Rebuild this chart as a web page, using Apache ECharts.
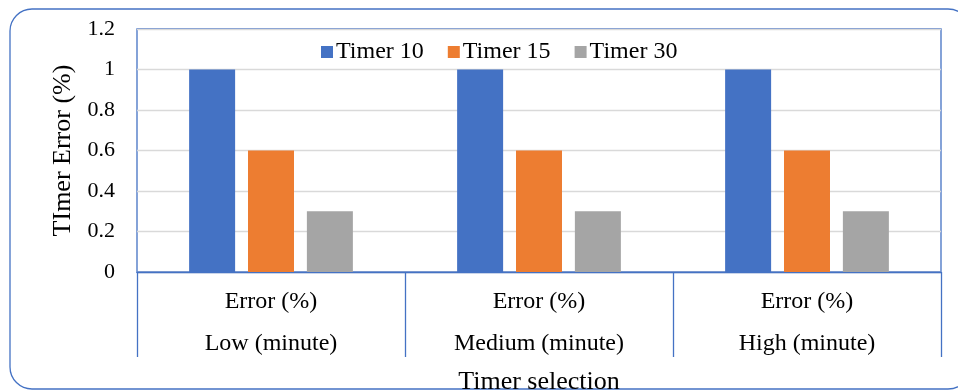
<!DOCTYPE html>
<html>
<head>
<meta charset="utf-8">
<script src="https://cdn.jsdelivr.net/npm/echarts@6/dist/echarts.min.js"></script>
<style>
  html, body { margin: 0; padding: 0; background: #ffffff; }
  #chart { width: 958px; height: 390px; }
</style>
</head>
<body>
<div id="chart"></div>
<script>
// Timer selection levels and the per-timer error values
const groups = ['Low (minute)', 'Medium (minute)', 'High (minute)'];
const subLabel = 'Error (%)';
const seriesNames = ['Timer 10', 'Timer 15', 'Timer 30'];
const timer10 = [1, 1, 1];
const timer15 = [0.6, 0.6, 0.6];
const timer30 = [0.3, 0.3, 0.3];
const yTicks = [0, 0.2, 0.4, 0.6, 0.8, 1, 1.2];

const colors = ['#4472C4', '#ED7D31', '#A5A5A5'];
const font = '"Liberation Serif", "Times New Roman", serif';
const frame = '#4472C4';

const chart = echarts.init(document.getElementById('chart'), null, { renderer: 'canvas' });

const values = [timer10, timer15, timer30];

chart.setOption({
  animation: false,
  textStyle: { fontFamily: font, color: '#000' },
  graphic: [{
    type: 'rect',
    shape: { x: 10, y: 9, width: 960, height: 380, r: 22 },
    style: { fill: 'none', stroke: frame, lineWidth: 1.3 },
    z: 0
  }],
  legend: {
    data: seriesNames,
    left: 316,
    top: 35,
    itemWidth: 12,
    itemHeight: 12,
    itemGap: 24,
    icon: 'rect',
    textStyle: { fontFamily: font, fontSize: 24, color: '#000', padding: [0, 0, 0, -2] }
  },
  grid: {
    left: 137, right: 17, top: 29, bottom: 118,
    show: true, borderColor: frame, borderWidth: 1.3,
    containLabel: false,
    outerBoundsMode: 'none'
  },
  xAxis: {
    type: 'category',
    data: groups,
    boundaryGap: true,
    axisLine: { show: true, lineStyle: { color: frame, width: 1.3 } },
    axisTick: { show: true, length: 85, alignWithLabel: false, lineStyle: { color: frame, width: 1.3 } },
    axisLabel: {
      margin: 9,
      interval: 0,
      formatter: (v) => '{a|' + subLabel + '}\n{b|' + v + '}',
      rich: {
        a: { fontFamily: font, fontSize: 24, lineHeight: 42, color: '#000' },
        b: { fontFamily: font, fontSize: 24, lineHeight: 42, color: '#000' }
      }
    },
    name: 'Timer selection',
    nameLocation: 'middle',
    nameGap: 97,
    nameTextStyle: { fontFamily: font, fontSize: 26, color: '#000' }
  },
  yAxis: {
    type: 'value',
    min: yTicks[0],
    max: yTicks[yTicks.length - 1],
    interval: 0.2,
    axisLine: { show: false },
    axisTick: { show: false },
    splitLine: { show: true, lineStyle: { color: '#d9d9d9', width: 1.3 } },
    axisLabel: {
      margin: 22,
      fontFamily: font,
      fontSize: 22,
      color: '#000',
      formatter: (v) => String(+v.toFixed(1))
    },
    name: 'TImer Error (%)',
    nameLocation: 'middle',
    nameRotate: 90,
    nameGap: 60,
    nameTextStyle: { fontFamily: font, fontSize: 26, color: '#000' }
  },
  series: seriesNames.map((name, i) => ({
    name,
    type: 'bar',
    data: values[i],
    barWidth: 46,
    barGap: '28%',
    itemStyle: { color: colors[i] }
  }))
});
</script>
</body>
</html>
